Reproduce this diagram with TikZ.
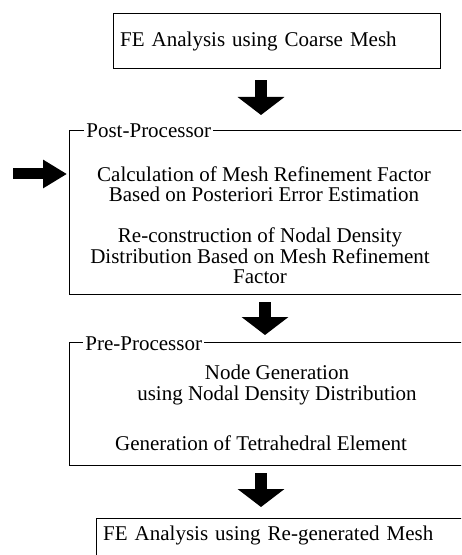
\documentclass[tikz,border=0pt]{standalone}
\usepackage{fontspec}
\setmainfont{Liberation Serif}
\usepackage{tikz}
\usetikzlibrary{arrows.meta, positioning}

\begin{document}
\begin{tikzpicture}[x=0.5pt, y=-0.5pt,
      every node/.style={font=\fontsize{10.5}{10.25}\selectfont},
      box/.style={rectangle, draw, line width=0.7pt, inner xsep=3.25pt,
                  align=left, anchor=north west},
      frame/.style={rectangle, draw, line width=0.7pt, anchor=north west,
                    minimum width=206pt},
      tag/.style={fill=white, inner sep=1pt, anchor=base west},
      item/.style={align=center, inner sep=0pt},
      blockarr/.style={-{Triangle[width=23pt,length=9pt]}, line width=6pt},
      sidearr/.style={-{Triangle[width=13.5pt,length=12pt]}, line width=5.5pt}
    ]
      \path[use as bounding box, clip] (0,0) rectangle (461,555);
      \node[box, text width=157pt, minimum height=27.5pt] (coarse) at (113,13)
        {FE Analysis using Coarse Mesh};
      \node[frame, minimum height=82pt] (post) at (69,130) {};
      \node[frame, minimum height=61.5pt] (pre) at (69,342) {};
      \node[box, text width=200pt, inner ysep=3pt, text height=8pt, text depth=30pt]
        (regen) at (96,518) {FE Analysis using Re-generated Mesh};
      \node[tag] (postlab) at ([xshift=7.5pt, yshift=-4pt]post.north west) {Post-Processor};
      \node[tag] (prelab) at ([xshift=7pt, yshift=-4pt]pre.north west) {Pre-Processor};
      \node[item] (refine) at (264,184)
        {Calculation of Mesh Refinement Factor\\Based on Posteriori Error Estimation};
      \node[item] (density) at (260,256)
        {Re-construction of Nodal Density\\Distribution Based on Mesh Refinement\\Factor};
      \node[item] (nodegen) at (277,385) {Node Generation\\using Nodal Density Distribution};
      \node[item] (tetra) at (261,443) {Generation of Tetrahedral Element};
      \coordinate (axis) at (261,0);
      \coordinate (axismid) at (265,0);
      \coordinate (feed) at (13,174);
      \draw[blockarr, shorten <=5.5pt, shorten >=7.5pt] (coarse.south -| axis) -- (post.north -| axis);
      \draw[blockarr, shorten <=3.5pt, shorten >=3.5pt] (post.south -| axismid) -- (pre.north -| axismid);
      \draw[blockarr, shorten <=3.5pt, shorten >=5.5pt] (pre.south -| axis) -- (regen.north -| axis);
      \draw[sidearr, shorten >=1pt] (feed) -- (feed -| post.west);
    \end{tikzpicture}
\end{document}
